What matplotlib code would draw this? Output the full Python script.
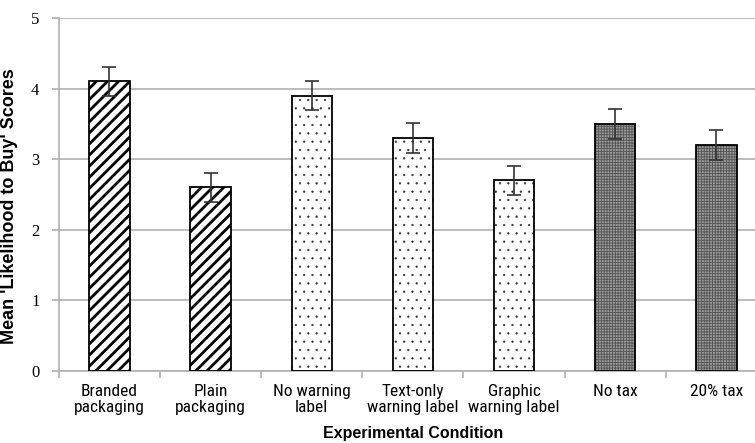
import os
import numpy as np
import matplotlib.pyplot as plt
from matplotlib import font_manager as fm

# chart values
conditions = ['Branded\npackaging', 'Plain\npackaging', 'No warning\nlabel',
              'Text-only\nwarning label', 'Graphic\nwarning label', 'No tax', '20% tax']
means = [4.1, 2.6, 3.9, 3.3, 2.7, 3.5, 3.2]
errors = [0.21, 0.21, 0.21, 0.21, 0.21, 0.21, 0.21]
y_ticks = [0, 1, 2, 3, 4, 5]

# fill style per condition group
hatches = ['///', '///', '..', '..', '..', '++++++', '++++++']
faces = ['white', 'white', 'white', 'white', 'white', '#9a9a9a', '#9a9a9a']
hatch_cols = ['black', 'black', '#333333', '#333333', '#333333', '#555555', '#555555']
hatch_lws = [2.0, 2.0, 0.4, 0.4, 0.4, 0.6, 0.6]

grid_col = '#b0b0b0'

# the original uses a narrow sans for the category labels, find one if there is
narrow_file = None
prefs = ['liberationsansnarrow-regular', 'liberationsansnarrow', 'arialn',
         'robotocondensed-regular', 'dejavusanscondensed.ttf']
files = [f.fname for f in fm.fontManager.ttflist]
for p in prefs:
    for fn in files:
        if os.path.basename(fn).lower().startswith(p.split('.')[0]) and \
                'bold' not in fn.lower() and 'italic' not in fn.lower():
            narrow_file = fn
            break
    if narrow_file:
        break

if narrow_file:
    tick_font = fm.FontProperties(fname=narrow_file,
                                  size=13 if 'narrow' in narrow_file.lower() else 12.5)
else:
    tick_font = fm.FontProperties(family='Liberation Sans', size=11)

fig = plt.figure(figsize=(7.55, 4.43), dpi=100)
# axes runs a little past the right edge, as in the cropped original
ax = fig.add_axes([0.0779, 0.1625, 0.938, 0.797])

x = np.arange(len(conditions))
for i in range(len(x)):
    b = ax.bar(x[i], means[i], width=0.4, color=faces[i], edgecolor=hatch_cols[i],
               hatch=hatches[i], linewidth=0, zorder=2)
    for p in b:
        if hasattr(p, 'set_hatch_linewidth'):
            p.set_hatch_linewidth(hatch_lws[i])
    ax.bar(x[i], means[i], width=0.4, fill=False, edgecolor='black',
           linewidth=1.3, zorder=3)

ax.errorbar(x, means, yerr=errors, fmt='none', ecolor='#333333', elinewidth=1.2,
            capsize=5, capthick=1.2, zorder=4)

ax.set_xlim(-0.5, len(conditions) - 0.5)
ax.set_ylim(0, 5)
ax.set_yticks(y_ticks)
ax.set_yticklabels([str(t) for t in y_ticks], family='Liberation Serif', fontsize=12)
ax.yaxis.grid(True, color=grid_col, linewidth=1.2, zorder=0)
ax.set_axisbelow(True)

ax.set_xticks(x)
ax.set_xticklabels(conditions, fontproperties=tick_font, linespacing=1.1)
ax.set_xticks(np.arange(len(conditions) + 1) - 0.5, minor=True)
ax.tick_params(axis='x', which='major', length=0, pad=9)
ax.tick_params(axis='x', which='minor', length=5, color=grid_col, width=1.2)
ax.tick_params(axis='y', length=5, color=grid_col, width=1.2, pad=9)

for s in ['top', 'right']:
    ax.spines[s].set_visible(False)
for s in ['left', 'bottom']:
    ax.spines[s].set_color(grid_col)
    ax.spines[s].set_linewidth(1.2)

ax.set_xlabel('Experimental Condition', family='Liberation Sans', fontweight='bold',
              fontsize=11.5)
ax.xaxis.set_label_coords(0.5, -0.155)
ax.set_ylabel("Mean 'Likelihood to Buy' Scores", family='Liberation Sans',
              fontweight='bold', fontsize=13)
ax.yaxis.set_label_coords(-0.057, 0.467)

fig.savefig('out.png', dpi=100)
